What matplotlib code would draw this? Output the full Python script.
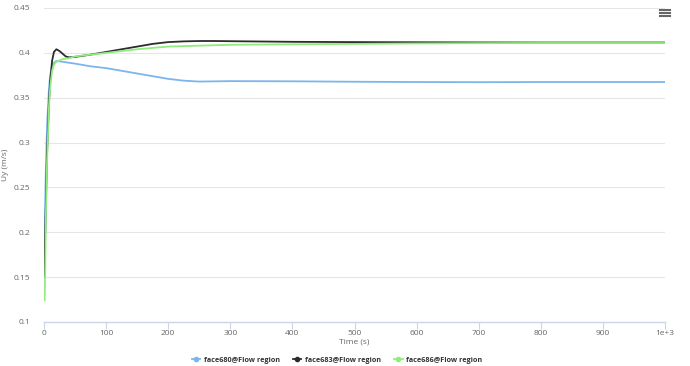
import matplotlib
matplotlib.use("Agg")
import matplotlib.pyplot as plt
from matplotlib.lines import Line2D

# Data
t_blue = [0, 1, 3, 5, 8, 10, 13, 16, 20, 30, 50, 75, 100, 125, 150, 175, 200, 225, 250, 300, 400, 500, 600, 700, 800, 900, 1000]
v_blue = [0.178, 0.20, 0.27, 0.32, 0.36, 0.375, 0.385, 0.389, 0.391, 0.390, 0.388, 0.385, 0.383, 0.380, 0.377, 0.374, 0.371, 0.369, 0.368, 0.3685, 0.3683, 0.3678, 0.3675, 0.3673, 0.3675, 0.3675, 0.3675]

t_black = [0, 1, 3, 5, 8, 10, 13, 16, 20, 25, 30, 35, 40, 50, 75, 100, 125, 150, 175, 200, 225, 250, 275, 300, 400, 500, 600, 700, 800, 900, 1000]
v_black = [0.15, 0.17, 0.23, 0.29, 0.345, 0.368, 0.391, 0.401, 0.404, 0.402, 0.399, 0.396, 0.395, 0.3955, 0.398, 0.401, 0.404, 0.407, 0.410, 0.412, 0.4128, 0.4132, 0.4132, 0.413, 0.4123, 0.412, 0.4118, 0.4116, 0.4115, 0.4115, 0.4115]

t_green = [1, 2, 3, 5, 8, 10, 13, 16, 20, 30, 40, 50, 75, 100, 150, 200, 250, 300, 400, 500, 600, 700, 800, 900, 1000]
v_green = [0.124, 0.16, 0.22, 0.28, 0.34, 0.362, 0.380, 0.387, 0.390, 0.393, 0.394, 0.396, 0.398, 0.400, 0.404, 0.407, 0.408, 0.409, 0.4095, 0.410, 0.4105, 0.4108, 0.411, 0.411, 0.411]

series_names = ["face680@Flow region", "face683@Flow region", "face686@Flow region"]
colors = ["#7cb5ec", "#2b2b2b", "#90ed7d"]

x_ticks = [0, 100, 200, 300, 400, 500, 600, 700, 800, 900, 1000]
x_tick_labels = ["0", "100", "200", "300", "400", "500", "600", "700", "800", "900", "1e+3"]
y_ticks = [0.1, 0.15, 0.2, 0.25, 0.3, 0.35, 0.4, 0.45]
y_tick_labels = ["0.1", "0.15", "0.2", "0.25", "0.3", "0.35", "0.4", "0.45"]

plt.rcParams['font.family'] = ['Open Sans', 'DejaVu Sans']

fig = plt.figure(figsize=(6.9, 3.66), dpi=100)
ax = fig.add_axes([44/690, 1-322/366, (665-44)/690, (322-8)/366])

for t, v, c, n in zip([t_blue, t_black, t_green], [v_blue, v_black, v_green], colors, series_names):
    ax.plot(t, v, color=c, lw=1.3, label=n, solid_joinstyle='round')

ax.set_xlim(0, 1000)
ax.set_ylim(0.1, 0.45)
ax.set_xticks(x_ticks)
ax.set_xticklabels(x_tick_labels)
ax.set_yticks(y_ticks)
ax.set_yticklabels(y_tick_labels)
ax.grid(axis='y', color='#e6e6e6', lw=0.8)
ax.set_axisbelow(True)
for s in ['top', 'right', 'left']:
    ax.spines[s].set_visible(False)
ax.spines['bottom'].set_color('#ccd6eb')
ax.spines['bottom'].set_linewidth(1)
ax.tick_params(axis='x', colors='#ccd6eb', length=5, width=0.8, labelcolor='#666666', labelsize=6, pad=1)
ax.tick_params(axis='y', length=0, labelcolor='#666666', labelsize=6, pad=10)

ax.set_xlabel("Time (s)", fontsize=6, color='#666666', labelpad=1)
ax.set_ylabel("Uy (m/s)", fontsize=6, color='#666666')
ax.yaxis.set_label_coords((9 - 44) / 621, 0.5)

handles = [Line2D([0], [0], color=c, lw=1.3, marker='o', markersize=3) for c in colors]
fig.legend(handles, series_names, loc='center', bbox_to_anchor=(337/690, 1-360/366),
           ncol=3, frameon=False, prop={'size': 5.2, 'weight': 'bold'},
           labelcolor='#333333', handlelength=1.2, columnspacing=1.8, handletextpad=0.5)

# hamburger menu icon
for yy in [10, 13, 16]:
    fig.add_artist(Line2D([660/690, 670/690], [1-yy/366, 1-yy/366], color='#666666', lw=1.5))

fig.savefig("out.png", dpi=100, facecolor='white')
